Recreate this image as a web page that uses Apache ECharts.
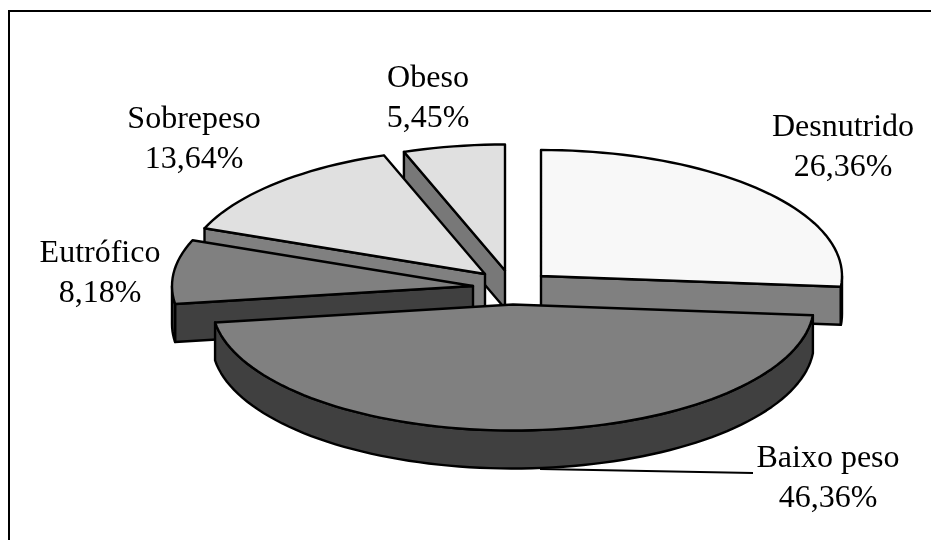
<!DOCTYPE html>
<html>
<head>
<meta charset="utf-8">
<style>html,body{margin:0;padding:0;background:#fff}#chart{width:931px;height:540px}</style>
<script src="https://cdn.jsdelivr.net/npm/echarts@6/dist/echarts.min.js"></script>
</head>
<body>
<div id="chart"></div>
<script>
// Nutritional status shares, clockwise from twelve o'clock
const categories = ['Desnutrido', 'Baixo peso', 'Eutrófico', 'Sobrepeso', 'Obeso'];
const percentages = [26.36, 46.36, 8.18, 13.64, 5.45];

// Exploded wedge apexes and label anchors, in pixels
const apexes = [[541, 276], [513, 304.5], [473, 286], [485, 274], [505, 270.5]];
const labelCentres = [[843, 148], [828, 479], [100, 274], [194, 140], [428, 99]];
const topColours = ['#f8f8f8', '#808080', '#808080', '#e0e0e0', '#e0e0e0'];
const wallColours = ['#808080', '#404040', '#404040', '#808080', '#787878'];
// Back-to-front painting order of the wedges
const paintOrder = [4, 3, 0, 2, 1];

const RX = 301, RY = 126, DEPTH = 38;
const total = percentages.reduce((a, b) => a + b, 0);
const startAngles = [];
percentages.reduce((acc, v, i) => { startAngles[i] = acc; return acc + v / total * 360; }, 0);

function rimPoint(apex, deg, drop) {
  const r = deg * Math.PI / 180;
  return [apex[0] + RX * Math.sin(r), apex[1] - RY * Math.cos(r) + drop];
}
function arc(apex, from, to, drop) {
  const pts = [];
  const n = Math.max(2, Math.ceil(Math.abs(to - from) / 2));
  for (let k = 0; k <= n; k++) pts.push(rimPoint(apex, from + (to - from) * k / n, drop));
  return pts;
}
const edgeStyle = fill => ({ fill, stroke: '#000', lineWidth: 2.4, lineJoin: 'round' });

function renderWedge(params, api) {
  const i = api.value(1);
  const apex = apexes[i];
  const a0 = startAngles[i];
  const a1 = a0 + api.value(0) / total * 360;
  const wall = edgeStyle(wallColours[i]);
  const children = [];

  const radialWall = deg => {
    const p = rimPoint(apex, deg, 0);
    children.push({
      type: 'polygon',
      shape: { points: [apex, p, [p[0], p[1] + DEPTH], [apex[0], apex[1] + DEPTH]] },
      style: wall
    });
  };
  // Only walls that face the viewer are drawn
  if (a0 > 180 && a0 < 360) radialWall(a0);
  if (a1 > 0 && a1 < 180) radialWall(a1);

  const rimFrom = Math.max(a0, 90), rimTo = Math.min(a1, 270);
  if (rimTo > rimFrom) {
    children.push({
      type: 'polygon',
      shape: { points: arc(apex, rimFrom, rimTo, 0).concat(arc(apex, rimTo, rimFrom, DEPTH)) },
      style: wall
    });
  }
  children.push({
    type: 'polygon',
    shape: { points: [apex].concat(arc(apex, a0, a1, 0)) },
    style: edgeStyle(topColours[i])
  });
  return { type: 'group', children };
}

function renderLabel(params, api) {
  const i = api.value(1);
  const pct = percentages[i].toFixed(2).replace('.', ',') + '%';
  return {
    type: 'text',
    x: labelCentres[i][0],
    y: labelCentres[i][1],
    style: {
      text: categories[i] + '\n' + pct,
      fill: '#000',
      font: '32px "Liberation Serif"',
      lineHeight: 40,
      align: 'center',
      verticalAlign: 'middle'
    }
  };
}

const chart = echarts.init(document.getElementById('chart'), null, { renderer: 'canvas' });
chart.setOption({
  animation: false,
  backgroundColor: '#fff',
  graphic: [
    // Frame: only the top and left rules fall inside the canvas
    { type: 'polyline', shape: { points: [[9, 540], [9, 11], [931, 11]] },
      style: { fill: 'none', stroke: '#000', lineWidth: 2 }, z: 0 },
    // Leader from the Baixo peso wedge to its label
    { type: 'line', shape: { x1: 540, y1: 469, x2: 753, y2: 473 },
      style: { stroke: '#000', lineWidth: 1.8 }, z: 0 }
  ],
  series: [
    {
      type: 'custom',
      coordinateSystem: 'none',
      silent: true,
      z: 3,
      renderItem: renderWedge,
      data: paintOrder.map(i => [percentages[i], i])
    },
    {
      type: 'custom',
      coordinateSystem: 'none',
      silent: true,
      z: 4,
      renderItem: renderLabel,
      data: percentages.map((v, i) => [v, i])
    }
  ]
});
</script>
</body>
</html>
